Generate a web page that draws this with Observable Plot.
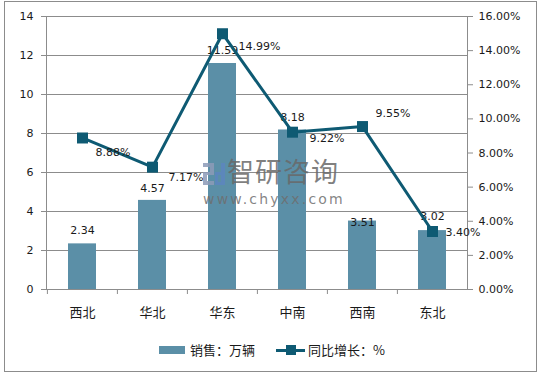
<!DOCTYPE html>
<html>
<head>
<meta charset="utf-8">
<script src="https://cdn.jsdelivr.net/npm/d3@7"></script>
<script src="https://cdn.jsdelivr.net/npm/@observablehq/plot@0.6"></script>
<style>
  html, body { margin: 0; padding: 0; background: #fff; }
  #wrap { position: relative; width: 539px; height: 373px; overflow: hidden; font-family: "DejaVu Sans", sans-serif; }
  #frame { position: absolute; left: 4px; top: 1px; width: 533px; height: 371px; box-sizing: border-box; border: 1px solid #8c8c8c; }
  #chart { position: absolute; left: 0; top: 0; }
  .wm { position: absolute; pointer-events: none; white-space: nowrap; }
  .leg { position: absolute; font-family: "Noto Sans CJK SC", sans-serif; font-size: 13px; color: #1a1a1a; line-height: 16px; }
</style>
</head>
<body>
<div id="wrap">
  <div id="frame"></div>
  <div id="chart"></div>
  <svg class="wm" style="left:0; top:0;" width="539" height="373" opacity="0.85">
    <g fill="#8d9bb8">
      <rect x="203" y="163" width="11" height="4"/>
      <rect x="210" y="163" width="4" height="12"/>
      <rect x="203" y="172" width="11" height="3"/>
      <rect x="203" y="172" width="4" height="13"/>
      <rect x="203" y="181" width="11" height="4"/>
    </g>
    <g fill="#5d86bf">
      <rect x="221" y="163" width="4" height="22"/>
      <rect x="215" y="172" width="10" height="3"/>
      <rect x="215" y="172" width="3" height="13"/>
      <rect x="215" y="182" width="10" height="3"/>
    </g>
  </svg>
  <div class="wm" style="left:227px; top:153px; font-family:'Noto Sans CJK SC',sans-serif; font-size:27px; line-height:36px; color:rgba(105,105,105,0.85); letter-spacing:1px;">智研咨询</div>
  <div class="wm" style="left:203px; top:190px; font-family:'DejaVu Sans',sans-serif; font-size:14px; line-height:18px; color:rgba(110,110,110,0.85); letter-spacing:2.2px;">www.chyxx.com</div>
  <div class="leg" style="left:159px; top:346px; width:26px; height:8px; background:#5b8fa7;"></div>
  <div class="leg" style="left:190px; top:342px;">销售：万辆</div>
  <div class="leg" style="left:276px; top:349px; width:29px; height:3px; background:#0e5a73;"></div>
  <div class="leg" style="left:286px; top:345px; width:10px; height:10px; background:#0e5a73;"></div>
  <div class="leg" style="left:308px; top:342px;">同比增长：%</div>
</div>
<script>
// ---- data ----
const regions = ["西北", "华北", "华东", "中南", "西南", "东北"];
const sales = [2.34, 4.57, 11.59, 8.18, 3.51, 3.02];           // 万辆
const growth = [8.88, 7.17, 14.99, 9.22, 9.55, 3.40];           // %
const leftTicks = [0, 2, 4, 6, 8, 10, 12, 14];
const rightTicks = [0, 2, 4, 6, 8, 10, 12, 14, 16];

// ---- layout (label nudges, px) ----
const lineLabelNudge = {
  "西北": [13, 14], "华北": [16, 10], "华东": [16, 13],
  "中南": [17, 6], "西南": [13, -13], "东北": [13, 1]
};
const barLabelNudge = {"西北": -13, "华北": -12, "华东": -13, "中南": -13, "西南": 1, "东北": -14};

const rows = regions.map((r, i) => ({region: r, sales: sales[i], growth: growth[i]}));
const yMax = 14, rMax = 16;
const toLeft = v => v * yMax / rMax;

const barColor = "#5b8fa7";
const lineColor = "#0e5a73";
const gridColor = "#8c8c8c";
const textColor = "#1a1a1a";

const lineLabelMarks = rows.map(d => Plot.text([d], {
  x: "region", y: dd => toLeft(dd.growth),
  text: dd => dd.growth.toFixed(2) + "%",
  textAnchor: "start", dx: lineLabelNudge[d.region][0], dy: lineLabelNudge[d.region][1],
  fontSize: 11, fill: textColor, fontFamily: "DejaVu Sans"
}));
const barLabelMarks = rows.map(d => Plot.text([d], {
  x: "region", y: "sales", text: dd => dd.sales.toFixed(2),
  dy: barLabelNudge[d.region], fontSize: 11, fill: textColor, fontFamily: "DejaVu Sans"
}));

const chart = Plot.plot({
  width: 539, height: 330,
  marginLeft: 46, marginRight: 72, marginTop: 16, marginBottom: 41,
  style: {fontFamily: "DejaVu Sans", fontSize: "11px", color: textColor, background: "transparent"},
  x: {domain: regions, paddingInner: 0.6, paddingOuter: 0.3, label: null},
  y: {domain: [0, yMax], label: null},
  marks: [
    Plot.gridY(leftTicks, {stroke: gridColor, strokeOpacity: 1}),
    Plot.frame({anchor: "left", stroke: gridColor}),
    Plot.frame({anchor: "right", stroke: gridColor}),
    Plot.axisY(leftTicks, {anchor: "left", tickSize: 5, tickPadding: 8, stroke: gridColor, fill: textColor, fontSize: 11, label: null}),
    Plot.axisY(rightTicks.map(toLeft), {anchor: "right", tickSize: 5, tickPadding: 6, stroke: gridColor, fill: textColor, fontSize: 11,
      tickFormat: d => (d * rMax / yMax).toFixed(2) + "%", label: null}),
    Plot.barY(rows, {x: "region", y: "sales", fill: barColor}),
    Plot.ruleY([0], {stroke: gridColor}),
    Plot.axisX({anchor: "bottom", tickSize: 5, tickFormat: () => "", dx: -35.1, stroke: gridColor, label: null}),
    Plot.axisX({anchor: "bottom", tickSize: 0, tickPadding: 18, fontSize: 13, fill: textColor, fontFamily: "Noto Sans CJK SC", label: null}),
    ...barLabelMarks,
    Plot.line(rows, {x: "region", y: d => toLeft(d.growth), stroke: lineColor, strokeWidth: 3}),
    Plot.dot(rows, {x: "region", y: d => toLeft(d.growth), symbol: "square", r: 6.2, fill: lineColor, stroke: "none"}),
    ...lineLabelMarks
  ]
});
document.getElementById("chart").appendChild(chart);
</script>
</body>
</html>
